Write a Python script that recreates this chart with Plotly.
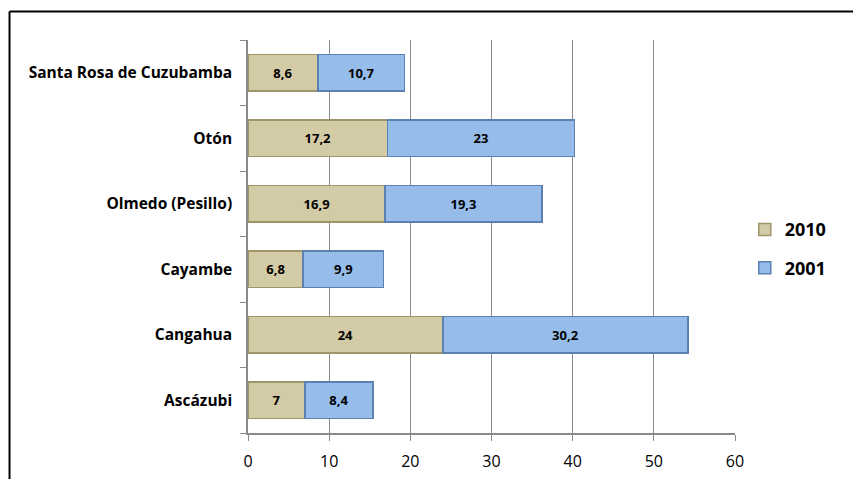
import plotly.graph_objects as go

categories = ["Ascázubi", "Cangahua", "Cayambe", "Olmedo (Pesillo)", "Otón", "Santa Rosa de Cuzubamba"]
v2010 = [7, 24, 6.8, 16.9, 17.2, 8.6]
v2001 = [8.4, 30.2, 9.9, 19.3, 23, 10.7]
x_ticks = [0, 10, 20, 30, 40, 50, 60]

def fmt(v):
    return ("%g" % v).replace(".", ",")

FONT = "Open Sans"
fig = go.Figure()
fig.add_trace(go.Bar(
    y=categories, x=v2010, name="2010", orientation="h", legendgroup="a",
    marker=dict(color="#D3CBA5", line=dict(color="#9E956B", width=1.5)),
    text=[fmt(v) for v in v2010], textposition="inside", insidetextanchor="middle",
    textfont=dict(family=FONT, size=13, color="black", weight="bold"),
    width=0.56,
))
fig.add_trace(go.Bar(
    y=categories, x=v2001, name="2001", orientation="h", legendgroup="b",
    marker=dict(color="#96BCE9", line=dict(color="#5B80B2", width=1.5)),
    text=[fmt(v) for v in v2001], textposition="inside", insidetextanchor="middle",
    textfont=dict(family=FONT, size=13, color="black", weight="bold"),
    width=0.56,
))

fig.update_layout(
    width=861, height=479,
    margin=dict(l=240, r=134, t=32, b=54),
    barmode="stack",
    paper_bgcolor="white", plot_bgcolor="white",
    font=dict(family=FONT, color="black"),
    showlegend=True,
    legend=dict(x=1.02, y=0.469, xanchor="left", yanchor="middle",
                traceorder="grouped", font=dict(family=FONT, size=18, weight="bold"),
                itemwidth=30, tracegroupgap=12, bgcolor="rgba(0,0,0,0)"),
    uniformtext=dict(minsize=8, mode="show"),
)
fig.update_xaxes(
    range=[0, 60], tickvals=x_ticks, ticktext=[str(t) for t in x_ticks],
    showgrid=True, gridcolor="#8A8A8A", gridwidth=1,
    showline=True, linecolor="#8A8A8A", linewidth=1.5,
    ticks="outside", ticklen=6, tickcolor="#8A8A8A",
    tickfont=dict(family=FONT, size=16, color="black"),
    ticklabelstandoff=7,
    zeroline=False, fixedrange=True,
)
fig.update_yaxes(
    categoryorder="array", categoryarray=categories,
    showline=True, linecolor="#8A8A8A", linewidth=1.5,
    ticks="outside", ticklen=6, tickcolor="#8A8A8A", tickson="boundaries",
    tickfont=dict(family=FONT, size=15.5, color="black", weight="bold"),
    ticklabelstandoff=11,
    showgrid=False, fixedrange=True,
)
# open frame (top and left edges)
fig.add_shape(type="line", xref="paper", yref="paper", x0=-0.4897, x1=1.3, y0=1.0725, y1=1.0725,
              line=dict(color="black", width=2))
fig.add_shape(type="line", xref="paper", yref="paper", x0=-0.4897, x1=-0.4897, y0=1.0725, y1=-0.2,
              line=dict(color="black", width=2))

fig.write_html("out.html")
